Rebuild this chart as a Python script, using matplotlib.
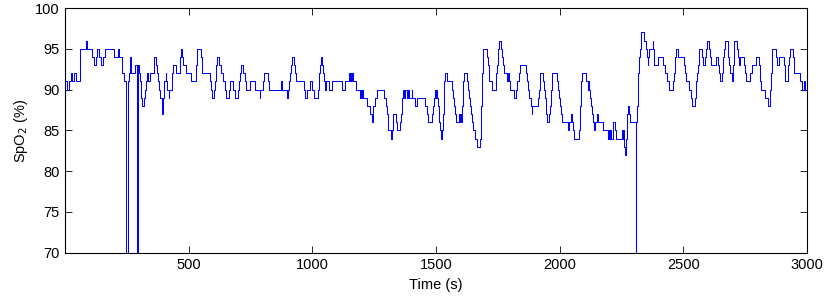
import numpy as np
import matplotlib
matplotlib.use('Agg')
import matplotlib.pyplot as plt

plt.rcParams['font.family'] = ['Liberation Sans', 'DejaVu Sans']

# breakpoints of the SpO2 trace (time in s, value in %)
# dropouts go below the visible range (clipped at 70)
time_s = [
    0, 8, 14, 24, 30, 36, 44, 60, 84, 88, 108, 118, 126, 130, 136, 146, 152, 160,
    196, 214, 218, 232, 240, 248, 254, 258, 264, 268, 282, 292, 296, 300, 304,
    306, 308, 310, 318, 324, 328, 332, 336, 342, 358, 360, 368, 372, 376, 379,
    382, 390, 394, 396, 399, 402, 407, 410, 413, 419, 422, 434, 438, 450, 464,
    466, 468, 472, 477, 484, 488, 511, 528, 531, 533, 535, 548, 552, 555, 558,
    586, 589, 593, 604, 606, 609, 612, 616, 623, 632, 640, 646, 650, 662, 666,
    678, 688, 701, 705, 708, 711, 720, 726, 732, 746, 766, 787, 790, 802, 805,
    820, 826, 874, 878, 898, 901, 907, 910, 914, 918, 925, 930, 934, 965, 971,
    977, 991, 1000, 1008, 1024, 1026, 1028, 1031, 1033, 1040, 1044, 1047, 1053,
    1057, 1068, 1078, 1118, 1132, 1149, 1152, 1155, 1158, 1161, 1163, 1176,
    1192, 1195, 1198, 1202, 1206, 1222, 1233, 1243, 1246, 1253, 1260, 1291,
    1296, 1300, 1304, 1307, 1316, 1320, 1324, 1327, 1337, 1341, 1355, 1358,
    1361, 1366, 1372, 1375, 1382, 1386, 1390, 1401, 1403, 1415, 1422, 1456,
    1463, 1469, 1483, 1487, 1490, 1494, 1496, 1500, 1503, 1507, 1510, 1513,
    1516, 1519, 1526, 1528, 1531, 1534, 1537, 1545, 1564, 1568, 1573, 1577,
    1581, 1591, 1594, 1597, 1600, 1604, 1606, 1608, 1610, 1612, 1624, 1628,
    1632, 1636, 1640, 1644, 1648, 1656, 1666, 1678, 1680, 1682, 1684, 1686,
    1688, 1691, 1705, 1709, 1713, 1716, 1728, 1741, 1744, 1747, 1749, 1751,
    1754, 1762, 1766, 1771, 1776, 1788, 1791, 1794, 1799, 1817, 1822, 1828,
    1834, 1839, 1862, 1869, 1873, 1877, 1882, 1886, 1889, 1913, 1916, 1919,
    1922, 1932, 1936, 1940, 1943, 1946, 1948, 1958, 1961, 1963, 1965, 1967,
    1970, 1989, 1992, 1996, 2001, 2005, 2009, 2032, 2036, 2046, 2050, 2053,
    2057, 2080, 2082, 2084, 2086, 2088, 2090, 2106, 2113, 2116, 2119, 2122,
    2127, 2131, 2133, 2140, 2144, 2152, 2155, 2176, 2194, 2197, 2200, 2203,
    2206, 2217, 2225, 2228, 2250, 2253, 2256, 2259, 2262, 2265, 2268, 2271,
    2274, 2277, 2281, 2284, 2308, 2310, 2313, 2315, 2317, 2321, 2324, 2328,
    2330, 2341, 2349, 2352, 2356, 2359, 2362, 2376, 2379, 2381, 2383, 2398,
    2418, 2425, 2432, 2440, 2460, 2462, 2465, 2468, 2472, 2480, 2503, 2508,
    2512, 2524, 2531, 2536, 2548, 2551, 2553, 2556, 2559, 2562, 2565, 2574,
    2578, 2588, 2591, 2596, 2604, 2607, 2611, 2630, 2642, 2645, 2648, 2658,
    2662, 2666, 2669, 2679, 2682, 2685, 2690, 2695, 2700, 2702, 2704, 2706,
    2718, 2720, 2723, 2728, 2746, 2750, 2754, 2768, 2777, 2792, 2804, 2808,
    2811, 2815, 2832, 2842, 2849, 2852, 2854, 2857, 2860, 2876, 2879, 2888,
    2905, 2909, 2913, 2923, 2925, 2928, 2930, 2942, 2946, 2949, 2970, 2980,
    2986, 2990, 3000,
]
spo2 = [
    91, 90, 91, 92, 91, 92, 91, 95, 96, 95, 94, 93, 94, 95, 94, 93, 94, 95,
    94, 95, 94, 92, 91, 65, 91, 92, 94, 92, 93, 65, 93, 92, 91,
    90, 89, 88, 89, 90, 91, 92, 91, 92, 93, 94, 93, 92, 91, 90,
    89, 87, 88, 89, 90, 91, 92, 91, 90, 89, 90, 92, 93, 92, 93,
    94, 95, 94, 93, 93, 92, 91, 92, 93, 94, 95, 94, 93, 92, 92,
    91, 90, 89, 90, 91, 92, 93, 94, 93, 92, 91, 90, 89, 90, 91,
    90, 89, 90, 91, 92, 93, 92, 91, 90, 91, 90, 89, 90, 91, 92,
    91, 90, 91, 90, 89, 90, 91, 92, 93, 94, 93, 92, 91, 90, 89,
    90, 91, 90, 89, 90, 91, 92, 93, 94, 93, 92, 91, 90,
    91, 90, 91, 90, 91, 92, 91, 92, 91, 92, 91, 90,
    89, 90, 89, 90, 89, 88, 87, 86, 88, 89, 90, 89,
    88, 87, 86, 85, 84, 85, 86, 87, 86, 85, 86, 87,
    89, 90, 89, 90, 89, 90, 89, 90, 89, 88, 89, 88,
    87, 86, 87, 88, 89, 90, 89, 90, 89, 88, 87, 86,
    85, 84, 85, 87, 89, 91, 92, 91, 90, 89, 88, 87,
    86, 87, 86, 87, 86, 87, 88, 90, 91, 92, 91, 90,
    89, 88, 87, 86, 85, 84, 83, 84, 86, 88, 90, 92,
    94, 95, 94, 93, 92, 91, 90, 91, 92, 93, 94, 95,
    96, 95, 94, 93, 92, 91, 92, 91, 90, 89, 90, 91,
    92, 93, 92, 91, 90, 89, 88, 87, 88, 89, 90, 91,
    92, 91, 90, 89, 88, 87, 86, 87, 88, 89, 90, 91,
    92, 91, 90, 89, 88, 87, 86, 85, 86, 87, 86, 85,
    84, 85, 86, 88, 90, 91, 92, 91, 90, 91, 90, 89,
    88, 87, 86, 85, 86, 87, 86, 85, 84, 85, 84, 85,
    84, 86, 85, 84, 85, 84, 85, 84, 83, 82, 84, 86,
    87, 88, 87, 86, 65, 86, 88, 90, 92, 94, 95, 96,
    97, 96, 95, 94, 93, 94, 95, 96, 95, 94, 93, 94,
    93, 92, 91, 90, 91, 92, 93, 94, 95, 94, 93, 92,
    91, 90, 89, 88, 89, 90, 91, 92, 93, 94, 95, 94,
    93, 94, 95, 96, 95, 94, 93, 94, 93, 92, 91, 92,
    94, 95, 96, 95, 94, 93, 92, 91, 92, 93, 95, 96,
    95, 94, 93, 94, 93, 92, 91, 92, 93, 94, 93, 92,
    91, 90, 89, 88, 89, 90, 92, 94, 95, 94, 93, 94,
    93, 92, 91, 92, 93, 94, 95, 94, 93, 92, 91, 90,
    91, 90, 90,
]

fig = plt.figure(figsize=(8.3, 2.99), dpi=100)
ax = fig.add_axes([0.0787, 0.1548, 0.8936, 0.8184])
ax.step(time_s, spo2, where='post', color='#0000ff', linewidth=0.75)

ax.set_xlim(1, 3000)
ax.set_ylim(70, 100)
ax.set_xticks([500, 1000, 1500, 2000, 2500, 3000])
ax.set_yticks([70, 75, 80, 85, 90, 95, 100])
ax.tick_params(direction='in', length=5, width=0.6, top=True, right=True,
               labelsize=10.5, pad=4)
for sp in ax.spines.values():
    sp.set_linewidth(0.8)
ax.set_xlabel('Time (s)', fontsize=10.5, labelpad=4)
ax.set_ylabel('SpO$_2$ (%)', fontsize=10.5, labelpad=4)

fig.savefig('out.png', dpi=100)
